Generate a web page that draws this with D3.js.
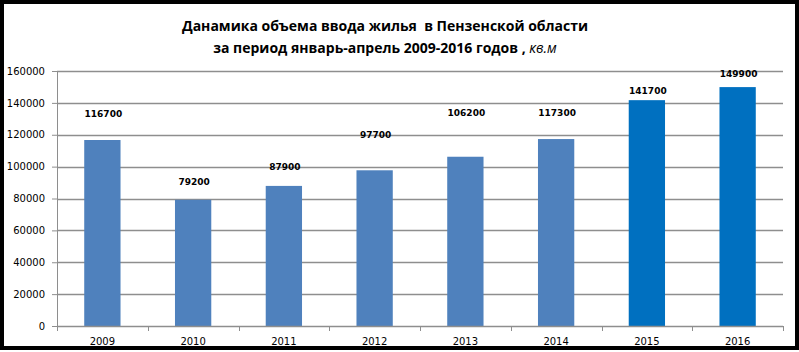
<!DOCTYPE html>
<html>
<head>
<meta charset="utf-8">
<script src="https://cdn.jsdelivr.net/npm/d3@7"></script>
<style>
  body { margin: 0; background: #fff; }
  svg { display: block; }
</style>
</head>
<body>
<svg id="chart" width="799" height="352"></svg>
<script>
// Years and housing volume (sq. m), Jan-Apr
const years = ['2009', '2010', '2011', '2012', '2013', '2014', '2015', '2016'];
const volumes = [116700, 79200, 87900, 97700, 106200, 117300, 141700, 149900];
const yTicks = [0, 20000, 40000, 60000, 80000, 100000, 120000, 140000, 160000];

// label lift above bar top (px), labels were hand-placed in the original
const labelLift = [23, 15, 16, 32, 41, 23, 6, 10];

const blue = '#4f81bd';
const brightBlue = '#0070c0';
const grid = '#8e8e8e';

const svg = d3.select('#chart');
const margin = { top: 71, right: 16, bottom: 26, left: 57 };
const width = 799 - margin.left - margin.right;
const height = 352 - margin.top - margin.bottom;

// frame
svg.append('rect')
  .attr('x', 2).attr('y', 2)
  .attr('width', 795).attr('height', 346)
  .attr('fill', 'none')
  .attr('stroke', '#000')
  .attr('stroke-width', 4);

// title
const title = svg.append('text')
  .attr('text-anchor', 'middle')
  .attr('font-family', 'Open Sans, sans-serif')
  .attr('font-weight', 700)
  .attr('font-size', 14)
  .attr('fill', '#000');
title.append('tspan').attr('x', 385).attr('y', 31)
  .text('Данамика объема ввода жилья  в Пензенской области')
  .style('white-space', 'pre');
const line2 = title.append('tspan').attr('x', 385).attr('y', 53);
line2.append('tspan').text('за период январь-апрель 2009-2016 годов , ');
line2.append('tspan').attr('font-weight', 400).attr('font-style', 'italic').text('кв.м');

const g = svg.append('g').attr('transform', `translate(${margin.left},${margin.top})`);

const x = d3.scaleBand().domain(years).range([0, width]).paddingInner(0.6).paddingOuter(0.3);
const y = d3.scaleLinear().domain([0, 160000]).range([height, 0]);

// gridlines + y axis
const yAxis = g.append('g')
  .call(d3.axisLeft(y).tickValues(yTicks).tickSize(5).tickPadding(7).tickFormat(d3.format('d')));
yAxis.select('.domain').attr('stroke', grid);
yAxis.selectAll('.tick line').attr('stroke', grid);
yAxis.selectAll('text')
  .attr('font-family', 'DejaVu Sans, sans-serif')
  .attr('font-size', 10)
  .attr('fill', '#000');

g.append('g')
  .selectAll('line')
  .data(yTicks.filter((d) => d > 0))
  .join('line')
  .attr('x1', 0).attr('x2', width)
  .attr('y1', (d) => Math.round(y(d)) + 0.5)
  .attr('y2', (d) => Math.round(y(d)) + 0.5)
  .attr('stroke', grid)
  .attr('stroke-width', 1.4);

// bars
g.selectAll('rect.bar')
  .data(volumes)
  .join('rect')
  .attr('class', 'bar')
  .attr('x', (d, i) => x(years[i]))
  .attr('width', x.bandwidth())
  .attr('y', (d) => y(d))
  .attr('height', (d) => height - y(d))
  .attr('fill', (d, i) => (i >= 6 ? brightBlue : blue));

// value labels
g.selectAll('text.value')
  .data(volumes)
  .join('text')
  .attr('class', 'value')
  .attr('x', (d, i) => x(years[i]) + x.bandwidth() / 2 + 1)
  .attr('y', (d, i) => y(d) - labelLift[i])
  .attr('text-anchor', 'middle')
  .attr('font-family', 'DejaVu Sans, sans-serif')
  .attr('font-weight', 700)
  .attr('font-size', 9)
  .attr('fill', '#000')
  .text((d) => d);

// x axis with ticks at category boundaries
const xAxis = g.append('g').attr('transform', `translate(0,${height})`);
xAxis.append('line')
  .attr('x1', 0).attr('x2', width)
  .attr('y1', 0.5).attr('y2', 0.5)
  .attr('stroke', grid)
  .attr('stroke-width', 1.4);
const step = width / years.length;
xAxis.selectAll('line.tick')
  .data(d3.range(years.length + 1))
  .join('line')
  .attr('class', 'tick')
  .attr('x1', (d) => Math.round(d * step) + 0.5)
  .attr('x2', (d) => Math.round(d * step) + 0.5)
  .attr('y1', 0).attr('y2', 5)
  .attr('stroke', grid);
xAxis.selectAll('text')
  .data(years)
  .join('text')
  .attr('x', (d) => x(d) + x.bandwidth() / 2)
  .attr('y', 19)
  .attr('text-anchor', 'middle')
  .attr('font-family', 'DejaVu Sans, sans-serif')
  .attr('font-size', 10)
  .attr('fill', '#000')
  .text((d) => d);
</script>
</body>
</html>
